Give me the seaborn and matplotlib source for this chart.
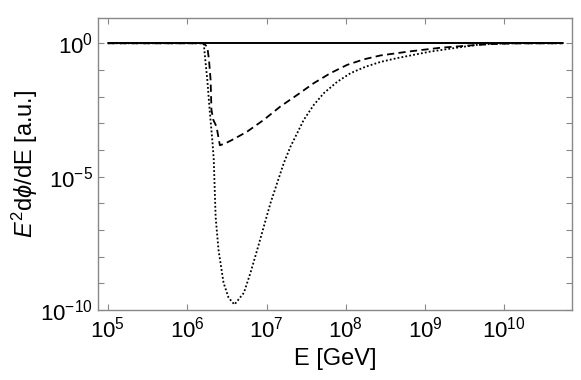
import matplotlib
matplotlib.use("Agg")
import matplotlib.pyplot as plt
import matplotlib.ticker as mticker
import seaborn as sns
import pandas as pd

# energies [GeV] and spectra
e_solid = [1e5, 5.5e10]
flux_solid = [1.0, 1.0]

e_dashed = [1e5, 1.6e6, 1.79e6, 1.88e6, 1.97e6, 2.02e6, 2.13e6, 2.34e6,
            2.58e6, 3.0e6, 3.6e6, 4.5e6, 5.71e6, 9.25e6, 1.5e7, 2.44e7,
            3.95e7, 6.41e7, 1.04e8, 1.69e8, 2.74e8, 6.55e8, 1.56e9, 3.74e9,
            6.7e9, 1.3e10, 5.5e10]
flux_dashed = [1.0, 1.0, 0.74, 0.24, 4.3e-2, 3.2e-3, 1.35e-3, 7.5e-4,
               1.5e-4, 1.75e-4, 2.3e-4, 3.3e-4, 4.9e-4, 1.35e-3, 4.3e-3,
               1.16e-2, 3.2e-2, 7.6e-2, 0.155, 0.25, 0.35, 0.5, 0.68, 0.83,
               0.93, 0.99, 1.0]

e_dotted = [1e5, 1.56e6, 1.62e6, 1.70e6, 1.79e6, 1.93e6, 2.07e6, 2.16e6,
            2.28e6, 2.48e6, 2.87e6, 3.32e6, 3.94e6, 5.18e6, 6.28e6, 7.63e6,
            9.25e6, 1.12e7, 1.36e7, 1.65e7, 2.01e7, 2.44e7, 2.95e7, 3.95e7,
            5.28e7, 7.8e7, 1.15e8, 1.75e8, 2.74e8, 4.49e8, 1.17e9, 3.05e9,
            5.0e9, 1.0e10, 1.8e10, 5.5e10]
flux_dotted = [1.0, 1.0, 0.9, 0.2, 4.3e-2, 2.5e-3, 2.4e-4, 4.3e-5,
               3.1e-7, 1.8e-8, 1.05e-9, 2.9e-10, 1.6e-10, 4.4e-10, 2.5e-9,
               1.8e-8, 1.35e-7, 1.0e-6, 5.7e-6, 3.2e-5, 1.35e-4, 4.3e-4,
               1.35e-3, 4.9e-3, 1.35e-2, 3.6e-2, 7.6e-2, 0.13, 0.2, 0.28,
               0.49, 0.74, 0.91, 0.98, 1.0, 1.0]

sns.set_style("ticks")
plt.rcParams['font.family'] = ['Liberation Sans', 'DejaVu Sans']
plt.rcParams['mathtext.fontset'] = 'custom'
plt.rcParams['mathtext.rm'] = 'Liberation Sans'
plt.rcParams['mathtext.it'] = 'Liberation Sans:italic'
plt.rcParams['mathtext.bf'] = 'Liberation Sans:bold'
plt.rcParams['text.color'] = 'black'
plt.rcParams['axes.labelcolor'] = 'black'
plt.rcParams['xtick.labelcolor'] = 'black'
plt.rcParams['ytick.labelcolor'] = 'black'

fig = plt.figure(figsize=(5.81, 3.80), dpi=100)
ax = fig.add_axes([0.1692, 0.1842, 0.8148, 0.7676])

df_solid = pd.DataFrame({'E': e_solid, 'flux': flux_solid})
df_dashed = pd.DataFrame({'E': e_dashed, 'flux': flux_dashed})
df_dotted = pd.DataFrame({'E': e_dotted, 'flux': flux_dotted})

sns.lineplot(data=df_dotted, x='E', y='flux', ax=ax, color='black',
             linewidth=1.3, linestyle=(0, (1, 1.2)), estimator=None, sort=False)
sns.lineplot(data=df_dashed, x='E', y='flux', ax=ax, color='black',
             linewidth=1.3, linestyle=(0, (4, 2.4)), estimator=None, sort=False)
sns.lineplot(data=df_solid, x='E', y='flux', ax=ax, color='black',
             linewidth=1.4, estimator=None, sort=False)

ax.set_xscale('log')
ax.set_yscale('log')
ax.set_xlim(10**4.878, 10**10.85)
ax.set_ylim(1e-10, 10**0.936)

ax.xaxis.set_major_locator(mticker.LogLocator(base=10, numticks=20))
ax.xaxis.set_minor_locator(mticker.NullLocator())
ax.yaxis.set_major_locator(mticker.FixedLocator([1e-10, 1e-5, 1e0]))
ax.yaxis.set_minor_locator(mticker.FixedLocator([10.0**k for k in range(-9, 0) if k != -5]))
ax.yaxis.set_minor_formatter(mticker.NullFormatter())

ax.tick_params(axis='both', which='both', direction='in', top=True, right=True,
               color='#888888', labelsize=16)
ax.tick_params(axis='x', pad=5)
ax.tick_params(axis='y', pad=4)
ax.tick_params(which='major', length=4, width=0.8)
ax.tick_params(which='minor', length=4, width=0.8)
for s in ax.spines.values():
    s.set_color('#888888')
    s.set_linewidth(1.0)

ax.set_xlabel('E [GeV]', fontsize=17, labelpad=4)
ax.set_ylabel(r'$E^2$d$\phi$/dE [a.u.]', fontsize=17, labelpad=0)

fig.savefig('out.png', dpi=100)
